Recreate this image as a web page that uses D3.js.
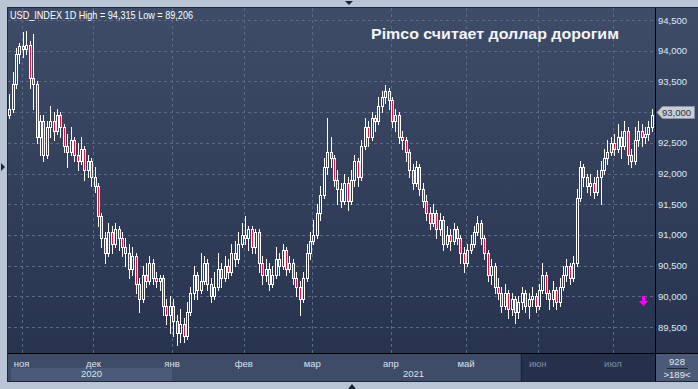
<!DOCTYPE html>
<html>
<head>
<meta charset="utf-8">
<script src="https://cdn.jsdelivr.net/npm/d3@7"></script>
<style>
body { margin: 0; background: #b9c5d5; }
svg { display: block; }
text { font-family: "Liberation Sans", Arial, sans-serif; }
</style>
</head>
<body>
<svg id="canvas" width="698" height="389"></svg>
<script>
// USD_INDEX daily bars, 27 Oct 2020 .. 16 Jul 2021 (weekdays)
const opens = [
92.95,93.05,93.45,93.95,94.08,94.02,94.10,93.55,93.45,92.60,
92.85,92.30,92.75,92.85,92.70,92.95,92.75,92.45,92.35,92.55,
92.30,92.20,92.40,92.05,92.20,91.95,91.80,91.30,90.95,90.70,
91.05,90.85,91.10,90.95,90.80,90.70,90.45,90.65,90.20,89.95,
90.35,90.25,90.55,90.30,90.25,90.30,89.85,89.70,89.85,89.60,
89.40,89.55,89.35,89.75,90.05,90.35,90.10,90.25,90.55,90.20,
90.00,90.15,90.45,90.30,90.50,90.40,90.70,90.60,90.85,91.00,
90.95,91.10,90.80,91.05,90.55,90.35,90.45,90.20,90.35,90.60,
90.50,90.75,90.45,90.55,90.30,90.15,89.95,90.30,90.70,90.90,
91.00,91.35,91.65,92.10,92.35,92.25,91.90,91.75,91.55,91.85,
91.55,91.90,92.20,91.95,92.45,92.75,92.60,92.90,92.85,93.10,
93.25,93.35,93.20,92.85,92.95,92.60,92.55,92.35,92.05,91.85,
92.10,91.75,91.55,91.35,91.20,91.35,91.10,91.25,90.85,91.00,
90.90,91.10,90.95,90.70,90.55,90.75,90.85,91.05,91.20,90.95,
90.70,90.35,90.50,90.15,90.05,89.85,90.05,89.80,89.95,89.75,
89.90,90.05,89.85,89.95,90.00,89.85,90.10,90.35,90.05,89.95,
90.10,89.90,90.15,90.35,90.50,90.30,90.55,91.60,92.10,91.95,
91.80,91.85,91.70,91.95,92.05,92.25,92.35,92.50,92.40,92.60,
92.45,92.70,92.30,92.20,92.55,92.70,92.60,92.65,92.75]
const highs = [
93.30,93.65,94.05,94.12,94.30,94.32,94.15,94.28,93.50,92.95,
92.95,92.85,93.10,93.00,93.05,93.00,92.80,92.65,92.75,92.60,
92.50,92.60,92.45,92.30,92.25,92.10,91.85,91.35,91.05,91.20,
91.15,91.20,91.15,91.05,90.95,90.85,90.80,90.70,90.30,90.50,
90.55,90.65,90.60,90.40,90.35,90.35,89.95,90.00,89.95,89.70,
89.80,89.65,89.90,90.15,90.50,90.40,90.70,90.65,90.60,90.30,
90.40,90.70,90.55,90.65,90.60,90.85,90.90,91.05,91.20,91.30,
91.15,91.15,91.10,91.10,90.65,90.60,90.55,90.50,90.80,90.70,
90.85,90.80,90.65,90.60,90.40,90.25,90.40,90.85,91.05,91.25,
91.50,91.80,92.25,92.90,92.60,92.30,92.05,91.85,92.00,91.95,
92.05,92.30,92.25,92.55,92.90,92.85,93.00,92.95,93.25,93.35,
93.44,93.40,93.25,93.05,93.00,92.70,92.60,92.40,92.15,92.20,
92.15,91.85,91.65,91.45,91.50,91.40,91.35,91.30,91.15,91.10,
91.20,91.15,91.00,90.80,90.85,91.00,91.15,91.30,91.25,91.00,
90.75,90.60,90.55,90.30,90.15,90.20,90.10,90.05,90.00,90.00,
90.15,90.10,90.05,90.15,90.05,90.20,90.55,90.40,90.10,90.25,
90.15,90.30,90.50,90.60,90.55,90.65,91.75,92.20,92.15,92.00,
92.00,91.95,92.05,92.20,92.40,92.55,92.60,92.65,92.80,92.70,
92.85,92.75,92.40,92.75,92.85,92.80,92.75,92.85,93.05]
const lows = [
92.90,93.00,93.40,93.80,93.90,93.95,93.40,93.05,92.50,92.30,
92.20,92.25,92.60,92.55,92.65,92.60,92.35,92.10,92.30,92.20,
92.05,92.15,91.90,91.95,91.80,91.70,91.15,90.80,90.55,90.65,
90.70,90.80,90.75,90.65,90.50,90.30,90.35,90.05,89.75,89.90,
90.15,90.20,90.20,90.15,90.10,89.70,89.55,89.40,89.35,89.21,
89.25,89.25,89.30,89.70,89.95,89.95,90.05,90.20,90.10,89.90,
89.95,90.10,90.15,90.25,90.30,90.35,90.50,90.55,90.80,90.85,
90.75,90.70,90.70,90.40,90.20,90.25,90.10,90.15,90.30,90.35,
90.45,90.35,90.40,90.20,90.00,89.70,89.90,90.25,90.60,90.85,
90.95,91.25,91.60,92.00,92.10,91.80,91.50,91.45,91.50,91.40,
91.50,91.80,91.80,91.90,92.40,92.45,92.55,92.70,92.80,93.00,
93.15,93.05,92.75,92.70,92.50,92.40,92.20,91.95,91.75,91.80,
91.65,91.45,91.25,91.10,91.15,90.95,91.00,90.75,90.80,90.75,
90.85,90.85,90.55,90.40,90.50,90.70,90.80,91.00,90.85,90.60,
90.25,90.20,90.05,89.95,89.75,89.80,89.65,89.70,89.56,89.65,
89.80,89.75,89.65,89.85,89.75,89.80,90.05,89.95,89.80,89.85,
89.80,89.85,90.10,90.25,90.20,90.25,90.50,91.55,91.80,91.70,
91.65,91.60,91.65,91.50,92.00,92.15,92.30,92.30,92.35,92.25,
92.40,92.15,92.10,92.15,92.45,92.45,92.50,92.55,92.70]
const closes = [
93.05,93.45,93.95,94.08,94.02,94.10,93.55,93.45,92.60,92.85,
92.30,92.75,92.85,92.70,92.95,92.75,92.45,92.35,92.55,92.30,
92.20,92.40,92.05,92.20,91.95,91.80,91.30,90.95,90.70,91.05,
90.85,91.10,90.95,90.80,90.70,90.45,90.65,90.20,89.95,90.35,
90.25,90.55,90.30,90.25,90.30,89.85,89.70,89.85,89.60,89.40,
89.55,89.35,89.75,90.05,90.35,90.10,90.25,90.55,90.20,90.00,
90.15,90.45,90.30,90.50,90.40,90.70,90.60,90.85,91.00,90.95,
91.10,90.80,91.05,90.55,90.35,90.45,90.20,90.35,90.60,90.50,
90.75,90.45,90.55,90.30,90.15,89.95,90.30,90.70,90.90,91.00,
91.35,91.65,92.10,92.35,92.25,91.90,91.75,91.55,91.85,91.55,
91.90,92.20,91.95,92.45,92.75,92.60,92.90,92.85,93.10,93.25,
93.35,93.20,92.85,92.95,92.60,92.55,92.35,92.05,91.85,92.10,
91.75,91.55,91.35,91.20,91.35,91.10,91.25,90.85,91.00,90.90,
91.10,90.95,90.70,90.55,90.75,90.85,91.05,91.20,90.95,90.70,
90.35,90.50,90.15,90.05,89.85,90.05,89.80,89.95,89.75,89.90,
90.05,89.85,89.95,90.00,89.85,90.10,90.35,90.05,89.95,90.10,
89.90,90.15,90.35,90.50,90.30,90.55,91.60,92.10,91.95,91.80,
91.85,91.70,91.95,92.05,92.25,92.35,92.50,92.40,92.60,92.45,
92.70,92.30,92.20,92.55,92.70,92.60,92.65,92.75,92.95]

const yTicks = [89.5, 90, 90.5, 91, 91.5, 92, 92.5, 93, 93.5, 94, 94.5]
const monthNames = ["янв","фев","мар","апр","май","июн","июл","авг","сен","окт","ноя","дек"]
const yearLabels = ["2020", "2021"]
const titleText = "USD_INDEX 1D High = 94,315 Low = 89,206"
const headline = "Pimco считает доллар дорогим"
const lastPrice = 93.0
const barsInfo = ["928", ">189<"]

// trading days (weekdays only)
const dates = d3.timeDay.range(new Date(2020, 9, 27), new Date(2021, 6, 17))
    .filter(d => d.getDay() !== 0 && d.getDay() !== 6)

const W = 698, H = 389
const pLeft = 8, pTop = 8, plotRight = 655, plotBottom = 353, axisBottom = 381

let canvas = d3.select("#canvas")

const x = d3.scaleBand().domain(d3.range(closes.length)).range([pLeft, 654])
const y = d3.scaleLinear().domain([89.5, 94.5]).range([327, 20])

const bgTop = "#3f4c67", bgBottom = "#28344f"
const bgAt = py => d3.interpolateRgb(bgTop, bgBottom)((py - pTop) / (plotBottom - pTop))
const fmt = v => v.toFixed(3).replace(".", ",")

const defs = canvas.append("defs")
const grad = defs.append("linearGradient").attr("id", "bg").attr("x1", 0).attr("x2", 0).attr("y1", 0).attr("y2", 1)
grad.append("stop").attr("offset", 0).attr("stop-color", bgTop)
grad.append("stop").attr("offset", 1).attr("stop-color", bgBottom)

// panel
canvas.append("rect").attr("x", pLeft - 1).attr("y", pTop - 1).attr("width", W - pLeft + 1).attr("height", axisBottom - pTop + 2).attr("fill", "#1e2738")
canvas.append("rect").attr("x", pLeft).attr("y", pTop).attr("width", W - pLeft).attr("height", plotBottom - pTop).attr("fill", "url(#bg)")

// bottom time axis
canvas.append("rect").attr("x", pLeft).attr("y", plotBottom).attr("width", plotRight - pLeft).attr("height", axisBottom - plotBottom).attr("fill", "#3e4c67")
// year band 2020
const firstJan = dates.findIndex(d => d.getFullYear() === 2021)
canvas.append("rect").attr("x", pLeft + 3).attr("y", 368).attr("width", x(firstJan) - pLeft - 3).attr("height", axisBottom - 368).attr("fill", "#4b5a76")
// inactive region of the time axis
const darkStart = 150
canvas.append("rect").attr("x", x(darkStart)).attr("y", plotBottom).attr("width", plotRight - x(darkStart)).attr("height", axisBottom - plotBottom).attr("fill", "#25314b")
canvas.append("line").attr("x1", Math.round(x(darkStart)) + 0.5).attr("x2", Math.round(x(darkStart)) + 0.5).attr("y1", plotBottom).attr("y2", axisBottom).attr("stroke", "#1a2233")
// right-bottom box
canvas.append("rect").attr("x", plotRight).attr("y", plotBottom).attr("width", W - plotRight).attr("height", axisBottom - plotBottom).attr("fill", "#4b5a77")

// grid
const monthStarts = dates.map((d, i) => i).filter(i => i > 0 && dates[i].getMonth() !== dates[i - 1].getMonth())
const grid = canvas.append("g").attr("stroke", "#5a6986").attr("stroke-dasharray", "3,3").attr("shape-rendering", "crispEdges")
grid.selectAll("line.h").data(yTicks).join("line")
    .attr("x1", pLeft).attr("x2", plotRight)
    .attr("y1", d => Math.round(y(d)) + 0.5).attr("y2", d => Math.round(y(d)) + 0.5)
grid.selectAll("line.v").data(monthStarts).join("line")
    .attr("x1", d => Math.round(x(d)) + 0.5).attr("x2", d => Math.round(x(d)) + 0.5)
    .attr("y1", pTop).attr("y2", plotBottom)

// candles
const bars = d3.range(closes.length).map(i => ({ i, o: opens[i], h: highs[i], l: lows[i], c: closes[i] }))
const cg = canvas.append("g").attr("shape-rendering", "crispEdges")
const cx = i => Math.floor(x(i) + x.bandwidth() / 2)
cg.selectAll("line").data(bars).join("line")
    .attr("x1", d => cx(d.i) + 0.5).attr("x2", d => cx(d.i) + 0.5)
    .attr("y1", d => Math.round(y(d.h))).attr("y2", d => Math.round(y(d.l)) + 1)
    .attr("stroke", "#ffffff")
const bodyTop = d => Math.round(y(Math.max(d.o, d.c)))
const bodyH = d => Math.max(2, Math.round(y(Math.min(d.o, d.c))) - bodyTop(d) + 1)
cg.selectAll("rect.body").data(bars).join("rect").attr("class", "body")
    .attr("x", d => cx(d.i) - 1).attr("width", 3)
    .attr("y", bodyTop).attr("height", bodyH)
    .attr("fill", "#ffffff")
cg.selectAll("rect.inner").data(bars.filter(d => bodyH(d) > 2)).join("rect").attr("class", "inner")
    .attr("x", d => cx(d.i)).attr("width", 1)
    .attr("y", d => bodyTop(d) + 1).attr("height", d => bodyH(d) - 2)
    .attr("fill", d => d.c >= d.o ? bgAt(bodyTop(d) + bodyH(d) / 2) : "#e3153f")

// separators
canvas.append("line").attr("x1", plotRight + 0.5).attr("x2", plotRight + 0.5).attr("y1", pTop).attr("y2", axisBottom).attr("stroke", "#000")
canvas.append("line").attr("x1", pLeft).attr("x2", W).attr("y1", plotBottom + 0.5).attr("y2", plotBottom + 0.5).attr("stroke", "#000")

// right price axis (the label under the price tag is covered by the tag)
const yAxis = d3.axisRight(y).tickValues(yTicks.filter(v => v !== lastPrice)).tickSize(0).tickPadding(0)
    .tickFormat(fmt)
const ya = canvas.append("g").attr("transform", `translate(${plotRight + 3},0)`).call(yAxis)
ya.select(".domain").remove()
ya.selectAll("text").attr("fill", "#dfe8f4").attr("font-size", "9.5px").attr("font-family", "Liberation Sans, Arial, sans-serif")

// last price tag
const ly = Math.round(y(lastPrice))
canvas.append("path")
    .attr("d", `M${plotRight + 2},${ly + 0.5} L${plotRight + 7.5},${ly - 5.5} L${W - 3.5},${ly - 5.5} L${W - 3.5},${ly + 6.5} L${plotRight + 7.5},${ly + 6.5} Z`)
    .attr("fill", "#c8cdd6").attr("stroke", "#8b94a4")
canvas.append("text").attr("x", plotRight + 7).attr("y", ly + 4)
    .attr("font-size", "9.5px").attr("fill", "#2a3142").text(fmt(lastPrice))

// month labels
const xa = canvas.append("g")
xa.selectAll("text").data(monthStarts).join("text")
    .attr("x", d => x(d)).attr("y", 366.5).attr("text-anchor", "middle")
    .attr("font-size", "9.5px")
    .attr("fill", d => d >= darkStart ? "#7f8da6" : "#d8e2f0")
    .text(d => monthNames[dates[d].getMonth()])
// year labels
const yearPos = [(pLeft + 3 + x(firstJan)) / 2, (x(firstJan) + plotRight) / 2]
xa.selectAll("text.yr").data(yearLabels).join("text").attr("class", "yr")
    .attr("x", (d, i) => yearPos[i]).attr("y", 377).attr("text-anchor", "middle")
    .attr("font-size", "9.5px").attr("fill", "#d8e2f0").text(d => d)

// bar counter box
canvas.append("text").attr("x", 677).attr("y", 365).attr("text-anchor", "middle").attr("font-size", "9.5px").attr("fill", "#e2e9f3").text(barsInfo[0])
canvas.append("line").attr("x1", 667).attr("x2", 688).attr("y1", 368.5).attr("y2", 368.5).attr("stroke", "#1e2738")
canvas.append("text").attr("x", 677).attr("y", 377.5).attr("text-anchor", "middle").attr("font-size", "9.5px").attr("fill", "#e2e9f3").text(barsInfo[1])

// titles
canvas.append("text").attr("x", 10).attr("y", 19).attr("font-size", "10.5px").attr("fill", "#ffffff")
    .attr("textLength", 183).attr("lengthAdjust", "spacingAndGlyphs").text(titleText)
canvas.append("text").attr("x", 371).attr("y", 38.5).attr("font-size", "14.5px").attr("font-weight", "bold").attr("fill", "#f2f4f8")
    .attr("textLength", 248).attr("lengthAdjust", "spacingAndGlyphs").text(headline)

// magenta marker
const mx = cx(185), my = Math.round(y(90))
canvas.append("path")
    .attr("d", `M${mx},${my} h3 v5 h3 l-4.5,5 l-4.5,-5 h3 Z`)
    .attr("fill", "#ff00ff")

// scroll arrows on the frame
canvas.append("path").attr("d", "M345,1 L353,1 L349,5 Z").attr("fill", "#1b2638")
canvas.append("path").attr("d", "M1,163 L5,167 L1,171 Z").attr("fill", "#1b2638")
canvas.append("path").attr("d", "M348,389 L356,389 L352,384 Z").attr("fill", "#1b2638")
</script>
</body>
</html>
